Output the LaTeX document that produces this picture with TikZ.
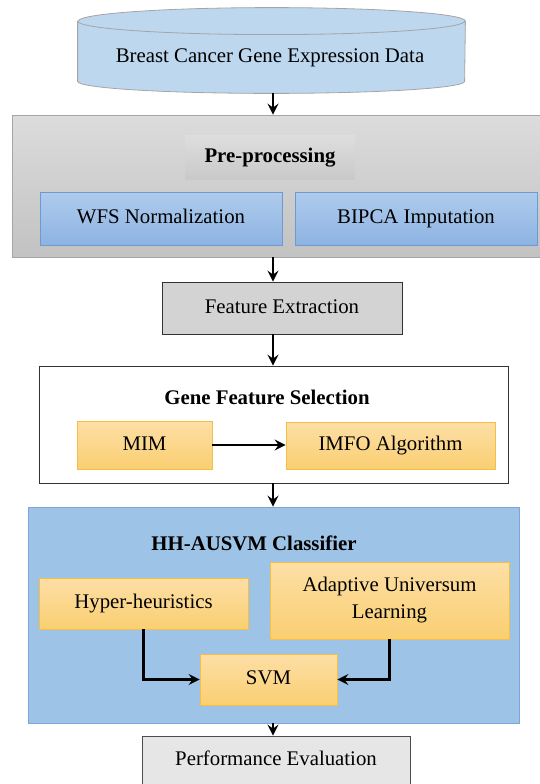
\documentclass[tikz,border=0pt]{standalone}
\usepackage{fontspec}
\setmainfont{LiberationSerif}[Extension=.ttf, UprightFont=*-Regular, BoldFont=*-Bold,
    ItalicFont=*-Italic, BoldItalicFont=*-BoldItalic]
\usepackage{tikz}
\usetikzlibrary{positioning, calc, arrows.meta}

\definecolor{datablue}{HTML}{BDD7EE}
\definecolor{dataline}{HTML}{A5A5A5}
\definecolor{pretop}{HTML}{DCDCDC}
\definecolor{prebot}{HTML}{C2C2C2}
\definecolor{bluetop}{HTML}{AFCBEC}
\definecolor{bluebot}{HTML}{8DB3E2}
\definecolor{blueline}{HTML}{6E9AD2}
\definecolor{orangetop}{HTML}{FDDFA6}
\definecolor{orangebot}{HTML}{FACF72}
\definecolor{orangeline}{HTML}{F7BE45}
\definecolor{clsblue}{HTML}{9DC3E6}
\definecolor{clsline}{HTML}{7AA6DC}
\definecolor{featgray}{HTML}{D3D3D3}
\definecolor{perfgray}{HTML}{E6E6E6}

\tikzset{every node/.append style={font=\fontsize{20.8}{27}\selectfont}}
\tikzset{flow/.style={-{Stealth[length=11pt,width=11pt,inset=4pt]}, line width=2.5pt}}
\tikzset{datadb/.style={draw=dataline, fill=datablue, line width=0.8pt}}
\tikzset{stage/.style={rectangle, inner sep=0pt, line width=0.8pt}}
\tikzset{onerow/.style={text height=14pt, text depth=4pt}}
\tikzset{bluebox/.style={stage, onerow, draw=blueline, top color=bluetop, bottom color=bluebot}}
\tikzset{orangebox/.style={stage, draw=orangeline, top color=orangetop, bottom color=orangebot, align=center}}
\tikzset{title/.style={font=\fontsize{20.8}{27}\selectfont\bfseries}}

\begin{document}
\begin{tikzpicture}[x=1pt, y=-1pt]

      \useasboundingbox (0,0) rectangle (540,784);

      % INPUT

      \node[stage, minimum width=387pt, minimum height=85pt] (data) at (271.5,50.5) {};
      \path[datadb] ($(data.north west)+(0,13.5)$) -- ($(data.south west)-(0,12)$)
            arc[start angle=180, end angle=0, x radius=193.5, y radius=12]
            -- ($(data.north east)+(0,13.5)$)
            arc[start angle=0, end angle=-180, x radius=193.5, y radius=13.5] -- cycle;
      \draw[dataline, line width=0.8pt] ($(data.north west)+(0,13.5)$)
            arc[start angle=180, end angle=0, x radius=193.5, y radius=13.5];
      \node (dataLabel) at (270,58) {Breast Cancer Gene Expression Data};

      % PRE-PROCESSING

      \node[stage, draw=dataline, top color=pretop, bottom color=prebot,
            minimum width=536pt, minimum height=142pt] (pre) at (280,186) {};
      \node[stage, onerow, top color=black!13, bottom color=black!21,
            minimum width=170pt, minimum height=44pt, title] (preLabel) at (270,157) {Pre-processing};
      \node[bluebox, minimum width=242pt, minimum height=53pt] (wfs) at (161,218.5) {WFS Normalization};
      \node[bluebox, minimum width=242pt, minimum height=53pt] (bipca) at (416,218.5) {BIPCA Imputation};

      % FEATURE EXTRACTION

      \node[stage, onerow, draw=black!80, fill=featgray, minimum width=240pt, minimum height=52pt] (feat) at (282,308) {Feature Extraction};

      % GENE FEATURE SELECTION

      \node[stage, draw=black!80, fill=white, minimum width=469pt, minimum height=117pt] (gfs) at (273.5,424.5) {};
      \node[title] (gfsLabel) at (267,397) {Gene Feature Selection};
      \node[orangebox, onerow, minimum width=135pt, minimum height=48pt] (mim) at (144.5,445) {MIM};
      \node[orangebox, onerow, minimum width=209pt, minimum height=47pt] (imfo) at (390.5,445.5) {IMFO Algorithm};

      % CLASSIFIER

      \node[stage, draw=clsline, fill=clsblue, minimum width=491pt, minimum height=216pt] (cls) at (273.5,615) {};
      \node[title] (clsLabel) at (254,543) {HH-AUSVM Classifier};
      \node[orangebox, onerow, minimum width=209pt, minimum height=51pt] (hyp) at (143.5,603.5) {Hyper-heuristics};
      \node[orangebox, minimum width=239pt, minimum height=77pt] (aul) at (389.5,600.5) {Adaptive Universum\\Learning};
      \node[orangebox, onerow, minimum width=137pt, minimum height=51pt] (svm) at (268.5,679.5) {SVM};

      % EVALUATION

      \node[stage, draw=black!70, fill=perfgray, minimum width=268pt, minimum height=56pt] (perf) at (276,764) {};
      \node (perfLabel) at (276,758) {Performance Evaluation};

      % ARCS

      \coordinate (axis) at (273,0);
      \draw[flow] (data.south -| axis) -- (pre.north -| axis);
      \draw[flow] (pre.south -| axis) -- (feat.north -| axis);
      \draw[flow] (feat.south -| axis) -- (gfs.north -| axis);
      \draw[flow] (gfs.south -| axis) -- (cls.north -| axis);
      \draw[flow] (cls.south -| axis) -- (perf.north -| axis);
      \draw[flow] (mim.east) -- (imfo.west |- mim.east);
      \draw[flow] (hyp.south) |- (svm.west);
      \draw[flow] (aul.south) |- (svm.east);
    \end{tikzpicture}
\end{document}
